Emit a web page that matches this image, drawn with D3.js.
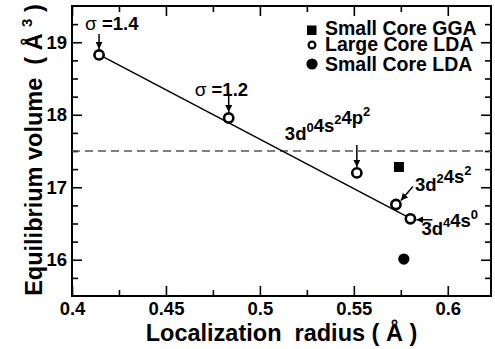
<!DOCTYPE html>
<html>
<head>
<meta charset="utf-8">
<script src="https://d3js.org/d3.v7.min.js"></script>
<style>
  body { margin: 0; background: #fff; }
  svg { display: block; font-family: "Liberation Sans", Arial, Helvetica, sans-serif; }
  .tick text { font-weight: bold; font-size: 18.5px; fill: #000; }
  text { white-space: pre; }
</style>
</head>
<body>
<script>
// chart data
var largeCoreX = [0.4144, 0.4834, 0.5516, 0.5724, 0.5801];
var largeCoreY = [18.825, 17.955, 17.198, 16.762, 16.565];
var smallGgaX = [0.5740];
var smallGgaY = [17.28];
var smallLdaX = [0.5766];
var smallLdaY = [16.01];
var fitX = [0.4144, 0.5801];
var fitY = [18.83, 16.57];
var refVolume = 17.5;
var xTicks = [0.4, 0.45, 0.5, 0.55, 0.6];
var xTickLabels = ["0.4", "0.45", "0.5", "0.55", "0.6"];
var xMinor = [0.425, 0.475, 0.525, 0.575];
var yTicks = [16, 17, 18, 19];
var yMinor = [15.75, 16.25, 16.5, 16.75, 17.25, 17.5, 17.75, 18.25, 18.5, 18.75, 19.25];
var legendNames = ["Small Core GGA", "Large Core LDA", "Small Core LDA"];
// annotation labels: [main, sup] pieces, attached to large core points
var annoParts = [
  [["\u03c3 =1.4", ""]],
  [["\u03c3 =1.2", ""]],
  [["3d", "0"], ["4s", "2"], ["4p", "2"]],
  [["3d", "2"], ["4s", "2"]],
  [["3d", "4"], ["4s", "0"]]
];

var W = 495, H = 349;
var m = {top: 6, right: 4, bottom: 53, left: 72};

var svg = d3.select("body").append("svg")
    .attr("width", W)
    .attr("height", H);

var x = d3.scaleLinear().domain([0.4, 0.623]).range([m.left, W - m.right]);
var y = d3.scaleLinear().domain([15.5, 19.5]).range([H - m.bottom, m.top]);

var defs = svg.append("defs");
defs.append("marker")
    .attr("id", "ah")
    .attr("viewBox", "0 0 10 10")
    .attr("refX", 10).attr("refY", 5)
    .attr("markerWidth", 7).attr("markerHeight", 7)
    .attr("markerUnits", "userSpaceOnUse")
    .attr("orient", "auto")
  .append("path")
    .attr("d", "M0,0L10,5L0,10z")
    .attr("fill", "#000");

/* ---- axes (ticks pointing inward, mirrored) ---- */
var fmt = function(d, i) { return xTickLabels[xTicks.indexOf(d)]; };

svg.append("g")
    .attr("transform", "translate(0," + y.range()[0] + ")")
    .call(d3.axisBottom(x).tickValues(xTicks).tickSize(-10).tickPadding(6).tickFormat(fmt));
svg.append("g")
    .attr("transform", "translate(0," + y.range()[0] + ")")
    .call(d3.axisBottom(x).tickValues(xMinor).tickSize(-6).tickFormat(""));
svg.append("g")
    .attr("transform", "translate(0," + y.range()[1] + ")")
    .call(d3.axisTop(x).tickValues(xTicks).tickSize(-10).tickFormat(""));
svg.append("g")
    .attr("transform", "translate(0," + y.range()[1] + ")")
    .call(d3.axisTop(x).tickValues(xMinor).tickSize(-6).tickFormat(""));

svg.append("g")
    .attr("transform", "translate(" + x.range()[0] + ",0)")
    .call(d3.axisLeft(y).tickValues(yTicks).tickSize(-10).tickPadding(5).tickFormat(d3.format("d")));
svg.append("g")
    .attr("transform", "translate(" + x.range()[0] + ",0)")
    .call(d3.axisLeft(y).tickValues(yMinor).tickSize(-6).tickFormat(""));
svg.append("g")
    .attr("transform", "translate(" + x.range()[1] + ",0)")
    .call(d3.axisRight(y).tickValues(yTicks).tickSize(-10).tickFormat(""));
svg.append("g")
    .attr("transform", "translate(" + x.range()[1] + ",0)")
    .call(d3.axisRight(y).tickValues(yMinor).tickSize(-6).tickFormat(""));

svg.selectAll(".domain").remove();
svg.selectAll(".tick line").attr("stroke", "#000").attr("stroke-width", 1.6);

// frame
svg.append("rect")
    .attr("x", x.range()[0]).attr("y", y.range()[1])
    .attr("width", x.range()[1] - x.range()[0])
    .attr("height", y.range()[0] - y.range()[1])
    .attr("fill", "none").attr("stroke", "#000").attr("stroke-width", 2);

/* ---- axis titles ---- */
svg.append("text")
    .attr("x", (x.range()[0] + x.range()[1]) / 2)
    .attr("y", 341)
    .attr("text-anchor", "middle")
    .style("font-weight", "bold").style("font-size", "23.5px")
    .text("Localization  radius ( \u00c5 )");

var yt = svg.append("text")
    .attr("transform", "translate(41.5," + 150 + ") rotate(-90)")
    .attr("text-anchor", "middle")
    .style("font-weight", "bold").style("font-size", "23.5px");
yt.append("tspan").text("Equilibrium volume  ( \u00c5 ");
yt.append("tspan").attr("dy", -10).style("font-size", "15px").text("3");
yt.append("tspan").attr("dy", 10).text(" )");

/* ---- reference line and fit ---- */
svg.append("line")
    .attr("x1", x.range()[0]).attr("x2", x.range()[1])
    .attr("y1", y(refVolume)).attr("y2", y(refVolume))
    .attr("stroke", "#555").attr("stroke-width", 1.5)
    .attr("stroke-dasharray", "8,5");

svg.append("path")
    .datum(d3.zip(fitX, fitY))
    .attr("d", d3.line().x(function(d) { return x(d[0]); }).y(function(d) { return y(d[1]); }))
    .attr("fill", "none").attr("stroke", "#000").attr("stroke-width", 1.5);

/* ---- points ---- */
svg.selectAll("circle.large")
    .data(d3.zip(largeCoreX, largeCoreY))
  .enter().append("circle")
    .attr("class", "large")
    .attr("cx", function(d) { return x(d[0]); })
    .attr("cy", function(d) { return y(d[1]); })
    .attr("r", 4.6)
    .attr("fill", "#fff").attr("stroke", "#000").attr("stroke-width", 2.6);

svg.selectAll("rect.gga")
    .data(d3.zip(smallGgaX, smallGgaY))
  .enter().append("rect")
    .attr("class", "gga")
    .attr("x", function(d) { return x(d[0]) - 5; })
    .attr("y", function(d) { return y(d[1]) - 5; })
    .attr("width", 10).attr("height", 10)
    .attr("fill", "#000");

svg.selectAll("circle.lda")
    .data(d3.zip(smallLdaX, smallLdaY))
  .enter().append("circle")
    .attr("class", "lda")
    .attr("cx", function(d) { return x(d[0]); })
    .attr("cy", function(d) { return y(d[1]); })
    .attr("r", 5.6)
    .attr("fill", "#000");

/* ---- annotations (pixel offsets from each point) ---- */
// text start dx,dy ; arrow from (ax1,ay1) to (ax2,ay2)
var annoPos = [
  {tx: -14, ty: -25, ax1: 0, ay1: -21, ax2: 0, ay2: -6},
  {tx: -34, ty: -22, ax1: 0, ay1: -25, ax2: 0, ay2: -6},
  {tx: -72, ty: -33, ax1: 0, ay1: -28, ax2: 0, ay2: -6},
  {tx: 19, ty: -14, ax1: 17, ay1: -18, ax2: 5, ay2: -4},
  {tx: 11, ty: 16, ax1: 22, ay1: 1, ax2: 6, ay2: 1}
];

annoParts.forEach(function(parts, i) {
  var px = x(largeCoreX[i]), py = y(largeCoreY[i]), p = annoPos[i];
  var t = svg.append("text")
      .attr("x", px + p.tx).attr("y", py + p.ty)
      .style("font-weight", "bold").style("font-size", "18.5px");
  parts.forEach(function(pt) {
    if (pt[0].charAt(0) === "\u03c3") {
      t.append("tspan").style("font-weight", "normal").style("font-size", "19px").text("\u03c3");
      t.append("tspan").text(pt[0].slice(1));
    } else {
      t.append("tspan").text(pt[0]);
    }
    if (pt[1]) {
      t.append("tspan").attr("dy", -8).style("font-size", "13px").text(pt[1]);
      t.append("tspan").attr("dy", 8).style("font-size", "13px").text("");
    }
  });
  svg.append("line")
      .attr("x1", px + p.ax1).attr("y1", py + p.ay1)
      .attr("x2", px + p.ax2).attr("y2", py + p.ay2)
      .attr("stroke", "#000").attr("stroke-width", 1.5)
      .attr("marker-end", "url(#ah)");
});

/* ---- legend ---- */
var lg = svg.append("g").attr("transform", "translate(312,0)");
var rowY = [35, 51, 70.5];
legendNames.forEach(function(name, i) {
  lg.append("text")
      .attr("x", 13).attr("y", rowY[i])
      .style("font-weight", "bold").style("font-size", "19.5px")
      .text(name);
});
lg.append("rect").attr("x", -5).attr("y", rowY[0] - 9.5).attr("width", 9.5).attr("height", 9.5).attr("fill", "#000");
lg.append("circle").attr("cx", 0).attr("cy", rowY[1] - 6).attr("r", 3.4)
    .attr("fill", "#fff").attr("stroke", "#000").attr("stroke-width", 2.2);
lg.append("circle").attr("cx", 0).attr("cy", rowY[2] - 6.5).attr("r", 5.6).attr("fill", "#000");
</script>
</body>
</html>
